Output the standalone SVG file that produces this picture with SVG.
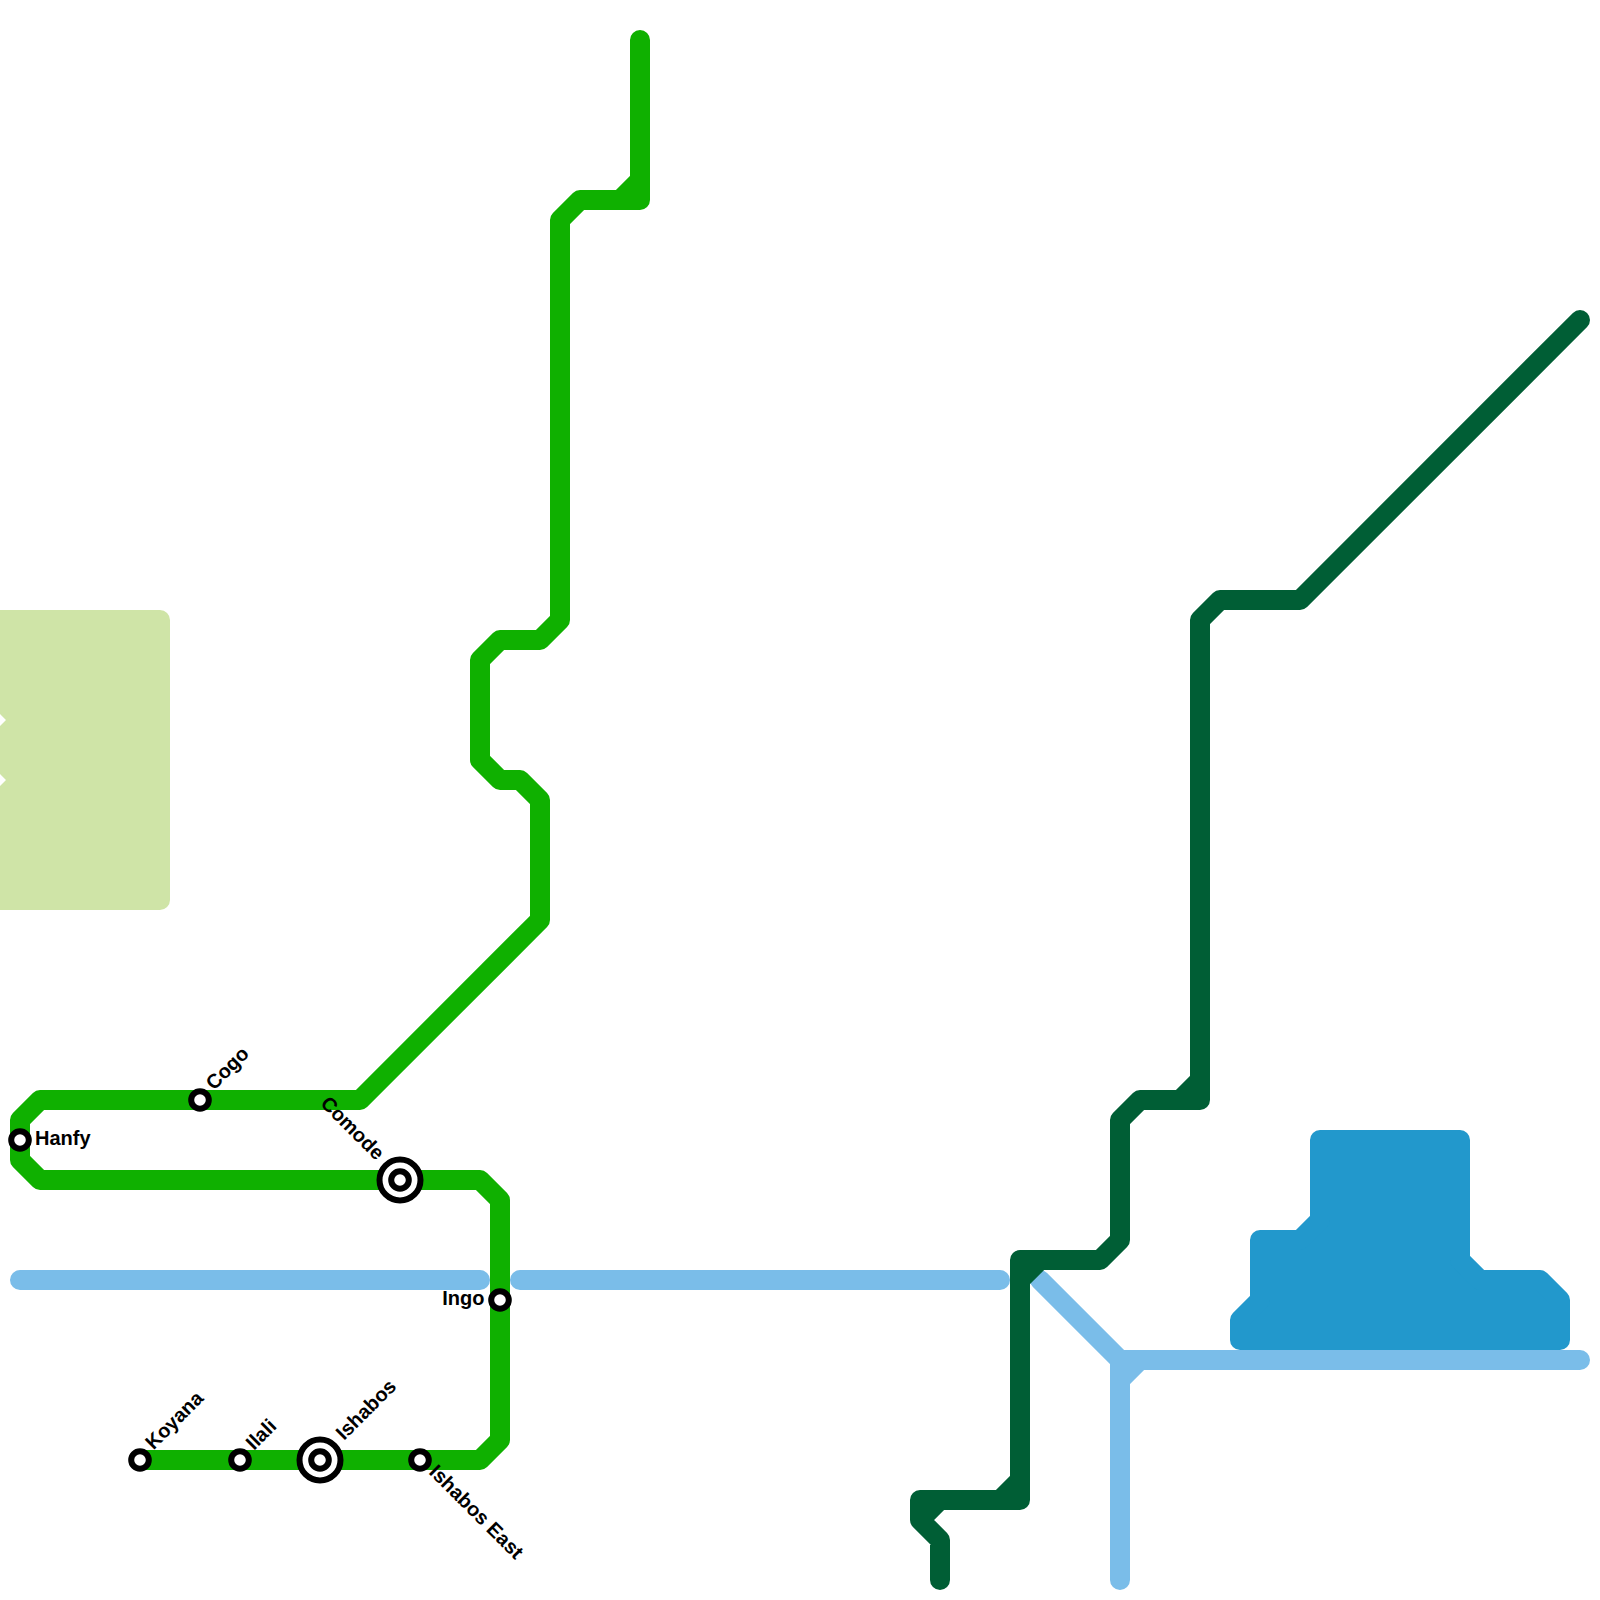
<svg xmlns="http://www.w3.org/2000/svg" width="1600" height="1600" viewBox="0 0 1600 1600">
<style>
.l{fill:none;stroke-width:20;stroke-linecap:round;stroke-linejoin:round}
.s{fill:#fff;stroke:#000;stroke-width:6}
text{font-family:"Liberation Sans",Arial,sans-serif;font-weight:bold;font-size:20px;fill:#000}
</style>
<rect width="1600" height="1600" fill="#fff"/>
<g id="areas">
<path id="area-pale" fill="#cfe4a7" d="M0,610H160a10,10 0 0 1 10,10V900a10,10 0 0 1 -10,10H0V786L6,780L0,774V726L6,720L0,714Z"/>
<polygon id="area-blue" fill="#2298cc" stroke="#2298cc" stroke-width="20" stroke-linejoin="round" points="1320,1140 1460,1140 1460,1260 1480,1280 1540,1280 1560,1300 1560,1340 1240,1340 1240,1320 1260,1300 1260,1240 1300,1240 1320,1220"/>
</g>
<g id="connectors">
<path class="l" stroke="#7abde9" d="M20,1280H480M520,1280H1000M1040,1280L1120,1360H1580M1120,1360V1580M1140,1360L1120,1380"/>
<path class="l" stroke="#005e35" d="M940,1580V1540L920,1520V1500H1020V1260H1100L1120,1240V1120L1140,1100H1200V620L1220,600H1300L1580,320M1000,1500L1020,1480M1020,1280L1040,1260M920,1520L940,1500M1180,1100L1200,1080"/>
<path class="l" stroke="#0fb000" d="M140,1460H480L500,1440V1200L480,1180H40L20,1160V1120L40,1100H360L540,920V800L520,780H500L480,760V660L500,640H540L560,620V220L580,200H640V40M620,200L640,180"/>
</g>
<g id="hanfy"><circle class="s" cx="20" cy="1140" r="8.8"/><text x="35" y="1145">Hanfy</text></g>
<g id="cogo"><circle class="s" cx="200" cy="1100" r="8.8"/><text transform="translate(214,1091) rotate(-45)">Cogo</text></g>
<g id="comode"><circle class="s" cx="400" cy="1180" r="20.5"/><circle class="s" cx="400" cy="1180" r="8.8"/><text text-anchor="end" transform="translate(376,1161) rotate(45)">Comode</text></g>
<g id="ingo"><circle class="s" cx="500" cy="1300" r="8.8"/><text text-anchor="end" x="484.500" y="1305">Ingo</text></g>
<g id="koyana"><circle class="s" cx="140" cy="1460" r="8.8"/><text transform="translate(153.500,1450.500) rotate(-45)">Koyana</text></g>
<g id="ilali"><circle class="s" cx="240" cy="1460" r="8.8"/><text transform="translate(254,1451) rotate(-45)">Ilali</text></g>
<g id="ishabos"><circle class="s" cx="320" cy="1460" r="20.5"/><circle class="s" cx="320" cy="1460" r="8.8"/><text transform="translate(344,1441) rotate(-45)">Ishabos</text></g>
<g id="ishabos-east"><circle class="s" cx="420" cy="1460" r="8.8"/><text transform="translate(428,1473) rotate(45)">Ishabos East</text></g>
</svg>
